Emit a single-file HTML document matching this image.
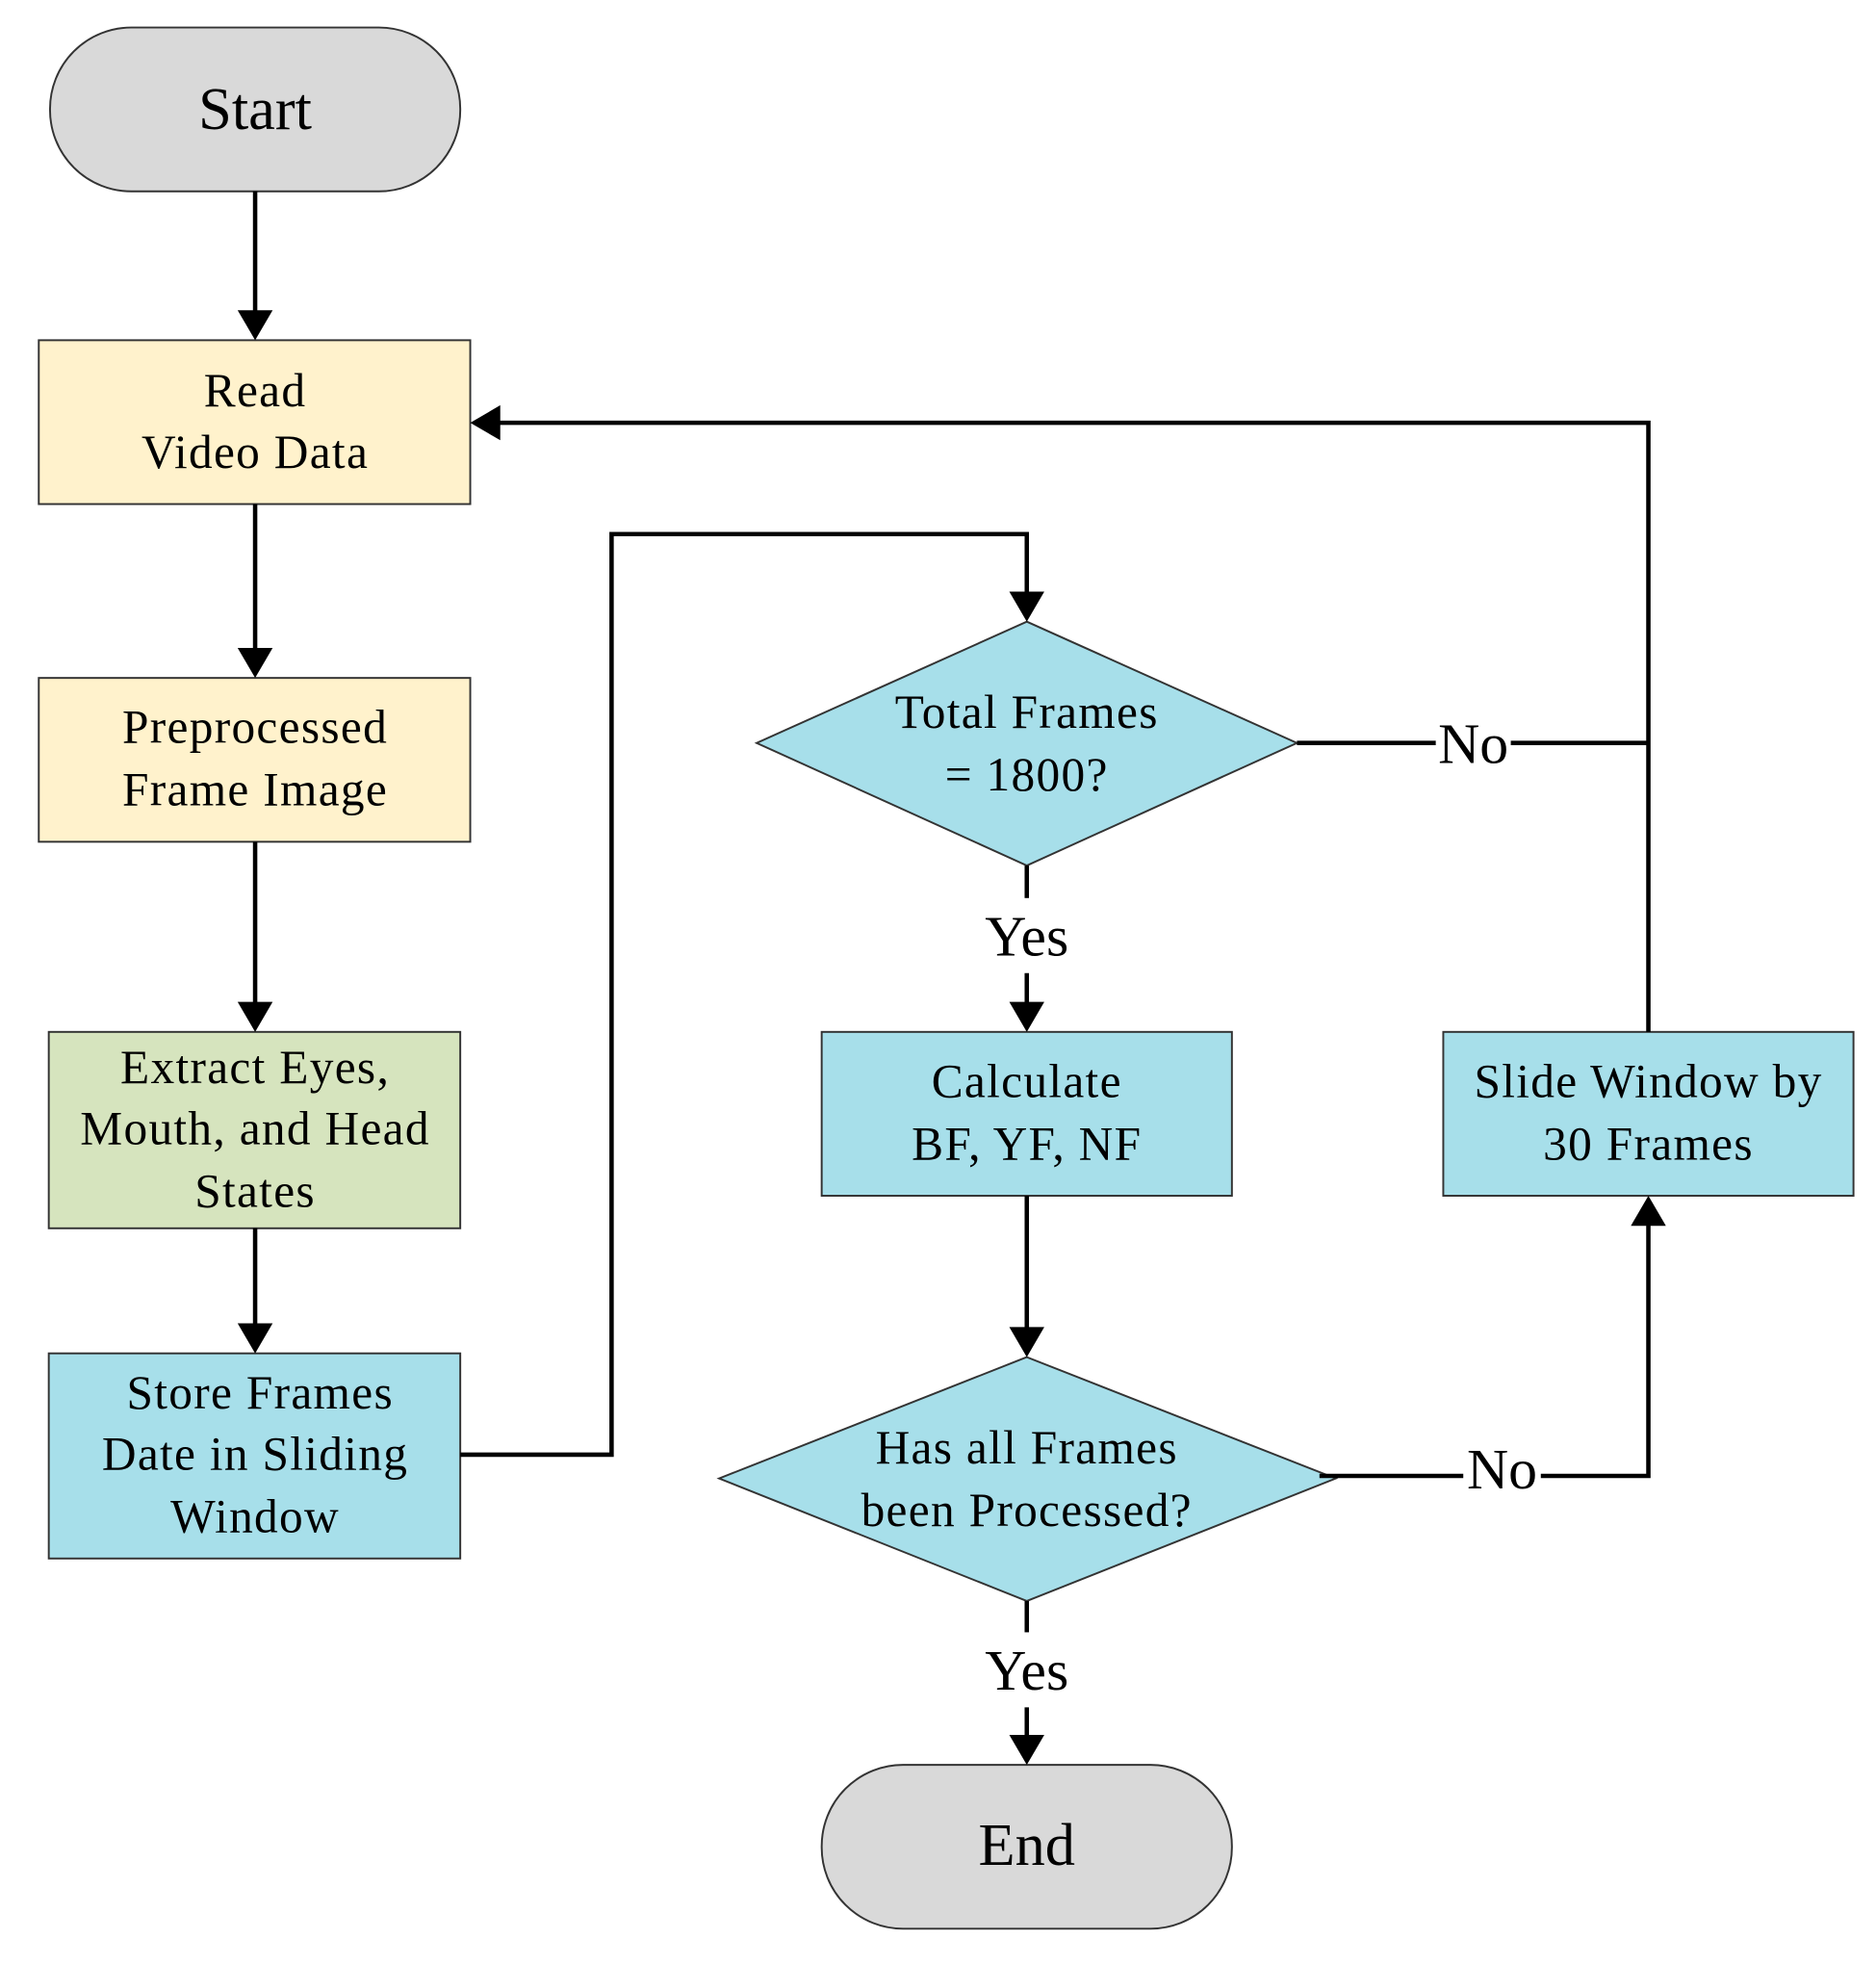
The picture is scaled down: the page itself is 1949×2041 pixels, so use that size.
<!DOCTYPE html>
<html><head><meta charset="utf-8"><style>
html,body{margin:0;padding:0;background:#fff;}
svg{display:block;}
text{font-family:"Liberation Serif",serif;fill:#000;text-anchor:middle;}
.b{font-size:38px;letter-spacing:1px;}
.l{font-size:46px;}
</style></head><body>
<svg width="1949" height="2041" viewBox="0 0 1500 1571" preserveAspectRatio="none" xmlns="http://www.w3.org/2000/svg">
<g stroke="#333" stroke-width="1.5">
<rect x="40" y="22" width="328" height="131" rx="65" fill="#D9D9D9"/>
<rect x="31" y="272" width="345" height="131" fill="#FFF2CC"/>
<rect x="31" y="542" width="345" height="131" fill="#FFF2CC"/>
<rect x="39" y="825" width="329" height="157" fill="#D6E4BE"/>
<rect x="39" y="1082" width="329" height="164" fill="#A7DFEA"/>
<polygon points="821,497 1037,594 821,692 605,594" fill="#A7DFEA"/>
<rect x="657" y="825" width="328" height="131" fill="#A7DFEA"/>
<rect x="1154" y="825" width="328" height="131" fill="#A7DFEA"/>
<polygon points="821,1085 1068,1182 821,1280 575,1182" fill="#A7DFEA"/>
<rect x="657" y="1411" width="328" height="131" rx="65" fill="#D9D9D9"/>
</g>
<g stroke="#000" stroke-width="3.5" fill="none">
<line x1="204" y1="153" x2="204" y2="250"/>
<line x1="204" y1="403" x2="204" y2="520"/>
<line x1="204" y1="673" x2="204" y2="803"/>
<line x1="204" y1="982" x2="204" y2="1060"/>
<polyline points="368,1163 489,1163 489,427 821,427 821,475"/>
<line x1="821" y1="692" x2="821" y2="718"/>
<line x1="821" y1="778" x2="821" y2="803"/>
<line x1="821" y1="956" x2="821" y2="1063"/>
<line x1="821" y1="1280" x2="821" y2="1305"/>
<line x1="821" y1="1365" x2="821" y2="1389"/>
<line x1="1037" y1="594" x2="1148" y2="594"/>
<line x1="1208" y1="594" x2="1318" y2="594"/>
<polyline points="1318,825 1318,338 398,338"/>
<line x1="1055" y1="1180" x2="1170" y2="1180"/>
<polyline points="1232,1180 1318,1180 1318,978"/>
</g>
<g fill="#000">
<polygon points="190,248 218,248 204,272"/>
<polygon points="190,518 218,518 204,542"/>
<polygon points="190,801 218,801 204,825"/>
<polygon points="190,1058 218,1058 204,1082"/>
<polygon points="807,473 835,473 821,497"/>
<polygon points="807,801 835,801 821,825"/>
<polygon points="807,1061 835,1061 821,1085"/>
<polygon points="807,1387 835,1387 821,1411"/>
<polygon points="400,324 400,352 376,338"/>
<polygon points="1304,980 1332,980 1318,956"/>
</g>
<text x="204" y="103" style="font-size:48px">Start</text>
<text class="b" x="204" y="325">Read</text>
<text class="b" x="204" y="374">Video Data</text>
<text class="b" x="204" y="594">Preprocessed</text>
<text class="b" x="204" y="644">Frame Image</text>
<text class="b" x="204" y="866">Extract Eyes,</text>
<text class="b" x="204" y="915">Mouth, and Head</text>
<text class="b" x="204" y="965">States</text>
<text class="b" x="208" y="1126">Store Frames</text>
<text class="b" x="204" y="1175">Date in Sliding</text>
<text class="b" x="204" y="1225">Window</text>
<text class="b" x="821" y="582">Total Frames</text>
<text class="b" x="821" y="632">= 1800?</text>
<text class="b" x="821" y="877">Calculate</text>
<text class="b" x="821" y="927">BF, YF, NF</text>
<text class="b" x="1318" y="877">Slide Window by</text>
<text class="b" x="1318" y="927">30 Frames</text>
<text class="b" x="821" y="1170">Has all Frames</text>
<text class="b" x="821" y="1220">been Processed?</text>
<text x="821" y="1491" style="font-size:48px">End</text>
<text class="l" x="821" y="764">Yes</text>
<text class="l" x="821" y="1351">Yes</text>
<text class="l" x="1178" y="610">No</text>
<text class="l" x="1201" y="1190">No</text>
</svg>
</body></html>
